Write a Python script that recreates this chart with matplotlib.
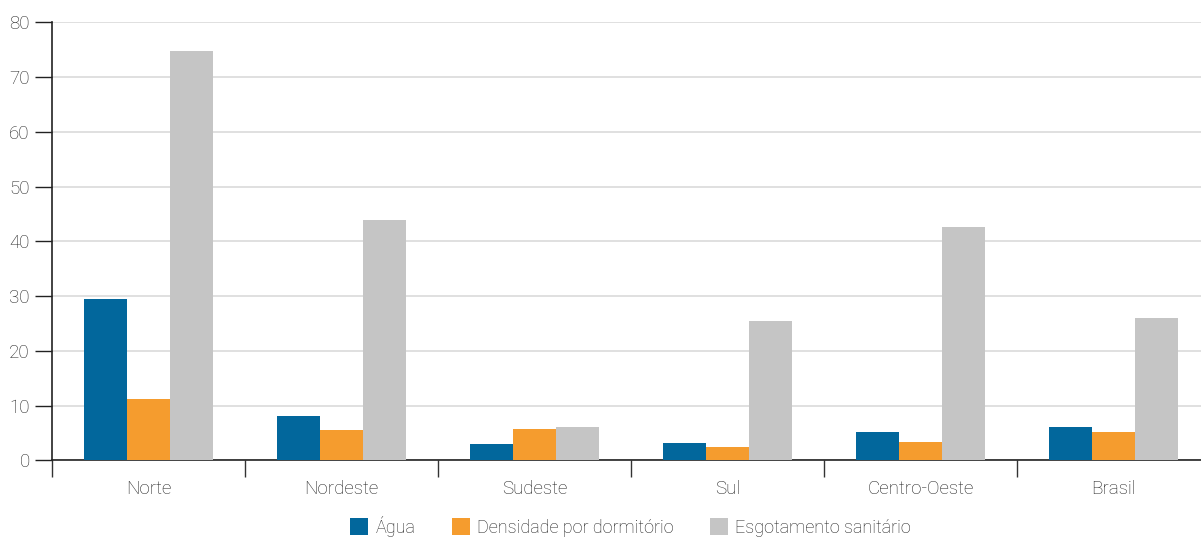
import matplotlib.pyplot as plt
import numpy as np

plt.rcParams['font.family'] = ['Roboto', 'Liberation Sans', 'DejaVu Sans']
plt.rcParams['font.weight'] = 'light'

regioes = ['Norte', 'Nordeste', 'Sudeste', 'Sul', 'Centro-Oeste', 'Brasil']
agua = [29.5, 8.1, 2.9, 3.1, 5.1, 6.1]
densidade = [11.2, 5.5, 5.7, 2.4, 3.4, 5.2]
esgotamento = [74.8, 43.8, 6.1, 25.4, 42.6, 25.9]

series = [('Água', agua, '#02679c'),
          ('Densidade por dormitório', densidade, '#f59c2e'),
          ('Esgotamento sanitário', esgotamento, '#c5c5c5')]

fig = plt.figure(figsize=(12.01, 5.37), dpi=100)
ax = fig.add_axes([52/1201, 76.7/537, 1 - 52/1201, 438/537])

x = np.arange(len(regioes))
w = 0.222
for i, (nome, vals, cor) in enumerate(series):
    ax.bar(x + (i - 1) * w, vals, w, color=cor, label=nome, zorder=3)

ax.set_yticks(range(0, 81, 10))
ax.yaxis.grid(True, color='#dddddd', linewidth=1.3, zorder=0)
ax.set_axisbelow(True)

# categorias: rótulos no centro, marcas nas divisões
ax.set_xticks(x)
ax.set_xticklabels(regioes)
ax.set_xticks(np.arange(-0.5, len(regioes), 1), minor=True)
ax.set_ylim(0, 80)
ax.set_xlim(-0.5, -0.5 + (1201 - 52) / 193)
ax.tick_params(axis='x', which='major', length=0, pad=14)
ax.tick_params(axis='x', which='minor', length=12, width=1, color='#333333')
ax.tick_params(axis='y', length=12, width=1, color='#222222', pad=4)
ax.tick_params(labelsize=13.5, labelcolor='#222222')

for s in ['top', 'right']:
    ax.spines[s].set_visible(False)
ax.spines['left'].set_color('#222222')
ax.spines['bottom'].set_color('#222222')
ax.spines['left'].set_linewidth(1.2)
ax.spines['bottom'].set_linewidth(1.2)

fig.legend(loc='center', bbox_to_anchor=(0.525, 0.02), ncol=3, frameon=False,
           fontsize=13, handlelength=1.0, handleheight=1.0, handletextpad=0.4,
           columnspacing=2.0, labelcolor='#222222')

fig.savefig('out.png', dpi=100)
